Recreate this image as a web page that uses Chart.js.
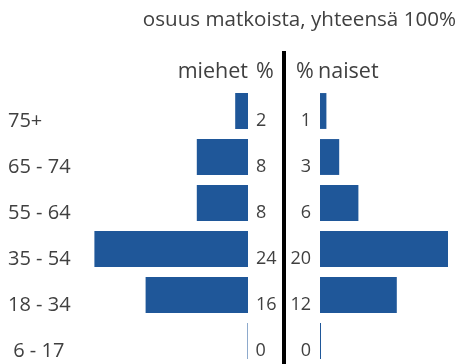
<!DOCTYPE html>
<html lang="fi">
<head>
<meta charset="utf-8">
<script src="https://cdn.jsdelivr.net/npm/chart.js@4"></script>
<style>
  html, body { margin: 0; padding: 0; background: #fff; }
  #wrap { position: relative; width: 469px; height: 364px; overflow: hidden;
          font-family: "Open Sans", sans-serif; color: #404040; }
  canvas { position: absolute; top: 0; }
  #left { left: 0; }
  #right { left: 284px; }
  .txt { position: absolute; line-height: 1; white-space: nowrap; }
  #title { font-size: 20.6px; right: 13px; top: 8px; }
  .head { font-size: 21.5px; top: 59px; }
  #divider { position: absolute; left: 282px; top: 51px; width: 4px; height: 313px; background: #000; }
</style>
</head>
<body>
<div id="wrap">
  <canvas id="left" width="284" height="364"></canvas>
  <canvas id="right" width="185" height="364"></canvas>
  <div id="divider"></div>
  <div class="txt" id="title">osuus matkoista, yhteensä 100%</div>
  <div class="txt head" style="right:221px">miehet</div>
  <div class="txt head" style="left:256px">%</div>
  <div class="txt head" style="left:296px">%</div>
  <div class="txt head" style="left:318px">naiset</div>
</div>
<script>
// Age groups, top to bottom
const ageGroups = ['75+', '65 - 74', '55 - 64', '35 - 54', '18 - 34', ' 6 - 17'];
// Share of trips, %
const men   = [2, 8, 8, 24, 16, 0];
const women = [1, 3, 6, 20, 12, 0];

const BAR_COLOR = '#1F5799';
const TEXT_COLOR = '#404040';
const PX_PER_UNIT = 6.4;
const TOP = 88;

// Prints each bar's value next to its base, and optionally the category name at the left edge
const barLabels = {
  id: 'barLabels',
  afterDatasetsDraw(chart, args, opts) {
    const ctx = chart.ctx;
    const ds = chart.data.datasets[0];
    const meta = chart.getDatasetMeta(0);
    ctx.save();
    ctx.fillStyle = TEXT_COLOR;
    ctx.textBaseline = 'alphabetic';
    meta.data.forEach((bar, i) => {
      ctx.font = '18px "Open Sans", sans-serif';
      ctx.textAlign = opts.align;
      ctx.fillText(String(ds.data[i]), bar.base + opts.dx, bar.y + 15);
      if (opts.categories) {
        ctx.font = '20px "Open Sans", sans-serif';
        ctx.textAlign = 'left';
        ctx.fillText(chart.data.labels[i], 8, bar.y + 16);
      }
    });
    ctx.restore();
  }
};

function barDataset(values) {
  return {
    data: values,
    backgroundColor: BAR_COLOR,
    borderWidth: 0,
    inflateAmount: 0,
    barPercentage: 0.78,
    categoryPercentage: 1,
    minBarLength: 1
  };
}

Chart.defaults.font.family = '"Open Sans", sans-serif';
Chart.defaults.color = TEXT_COLOR;

// Men: bars grow leftwards from the centre line
const leftAreaWidth = 166.4;
new Chart(document.getElementById('left'), {
  type: 'bar',
  data: { labels: ageGroups, datasets: [barDataset(men)] },
  plugins: [barLabels],
  options: {
    indexAxis: 'y',
    responsive: false,
    animation: false,
    devicePixelRatio: 1,
    layout: { padding: { top: TOP, bottom: 0, left: 284 - 36 - leftAreaWidth, right: 36 } },
    plugins: { legend: { display: false }, tooltip: { enabled: false },
               barLabels: { align: 'left', dx: 8, categories: true } },
    scales: {
      x: { reverse: true, min: 0, max: leftAreaWidth / PX_PER_UNIT, display: false },
      y: { display: false }
    }
  }
});

// Women: bars grow rightwards
const rightAreaWidth = 185 - 36;
new Chart(document.getElementById('right'), {
  type: 'bar',
  data: { labels: ageGroups, datasets: [barDataset(women)] },
  plugins: [barLabels],
  options: {
    indexAxis: 'y',
    responsive: false,
    animation: false,
    devicePixelRatio: 1,
    layout: { padding: { top: TOP, bottom: 0, left: 36, right: 0 } },
    plugins: { legend: { display: false }, tooltip: { enabled: false },
               barLabels: { align: 'right', dx: -9, categories: false } },
    scales: {
      x: { min: 0, max: rightAreaWidth / PX_PER_UNIT, display: false },
      y: { display: false }
    }
  }
});
</script>
</body>
</html>
